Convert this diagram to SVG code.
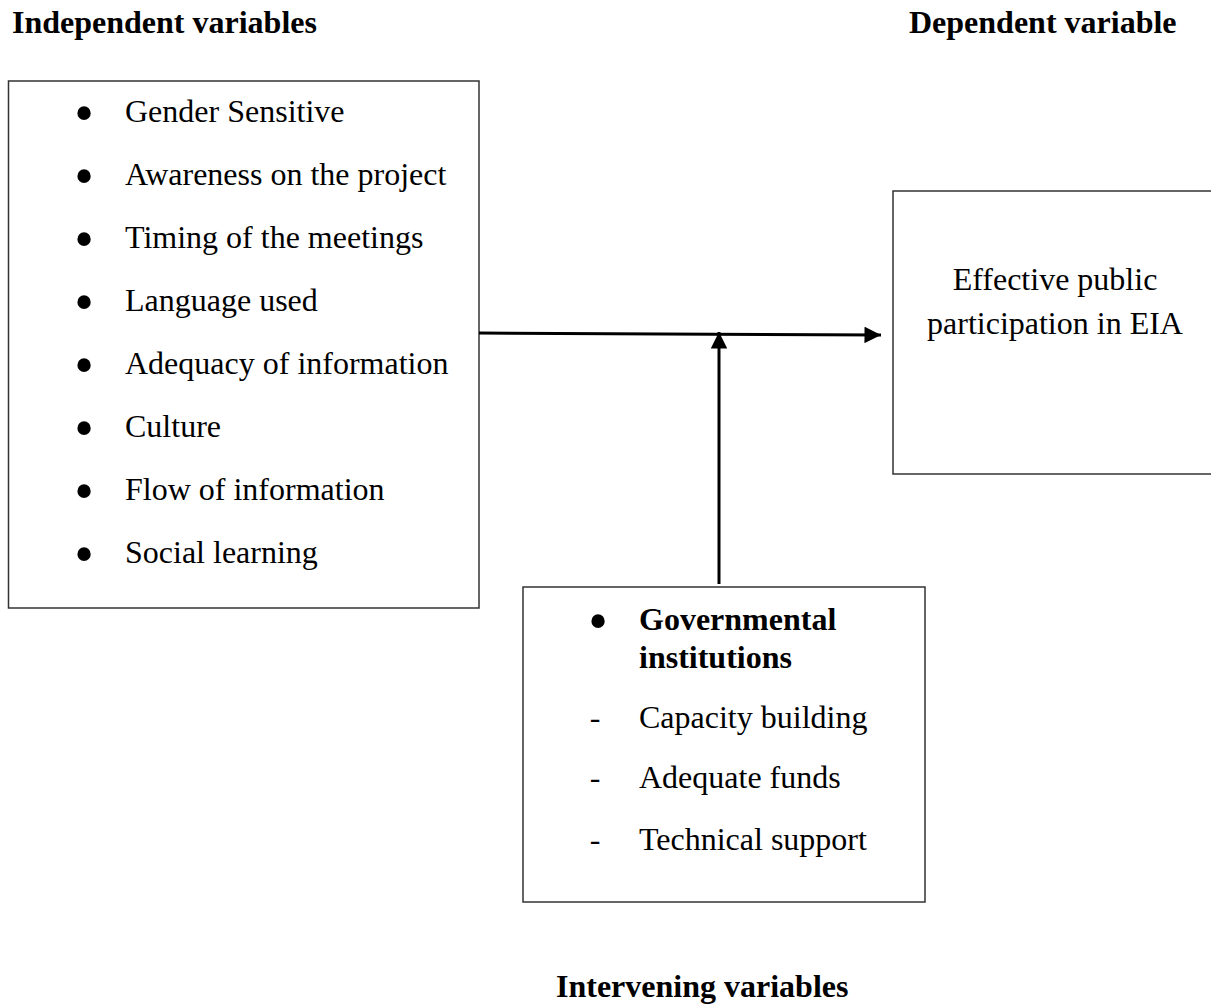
<svg xmlns="http://www.w3.org/2000/svg" width="1211" height="1005" viewBox="0 0 1211 1005">
<style>
  .t { font-family: "Liberation Serif", "Times New Roman", serif; font-size: 32px; fill: #000; }
  .b { font-weight: bold; }
  .box { fill: #fff; stroke: #333; stroke-width: 1.5; }
  .bul { font-family: "Liberation Serif", "Times New Roman", serif; font-size: 56px; fill: #000; text-anchor: middle; }
  .conn { stroke: #000; stroke-width: 3; fill: none; }
</style>
<defs>
  <marker id="arr" viewBox="0 0 10 10" refX="10" refY="5" markerWidth="6" markerHeight="5.5" markerUnits="strokeWidth" orient="auto">
    <path d="M0,0 L10,5 L0,10 z" fill="#000"/>
  </marker>
</defs>
<rect width="1211" height="1005" fill="#fff"/>

<g id="title-independent"><text class="t b" x="12" y="33">Independent variables</text></g>
<g id="title-dependent"><text class="t b" x="909" y="33">Dependent variable</text></g>
<g id="title-intervening"><text class="t b" x="556" y="997">Intervening variables</text></g>

<g id="independent">
  <rect class="box" x="8.5" y="81" width="470.5" height="527"/>
  <text class="bul" x="84" y="132">•</text><text class="t" x="125" y="122">Gender Sensitive</text>
  <text class="bul" x="84" y="195">•</text><text class="t" x="125" y="185">Awareness on the project</text>
  <text class="bul" x="84" y="258">•</text><text class="t" x="125" y="248">Timing of the meetings</text>
  <text class="bul" x="84" y="321">•</text><text class="t" x="125" y="311">Language used</text>
  <text class="bul" x="84" y="384">•</text><text class="t" x="125" y="374">Adequacy of information</text>
  <text class="bul" x="84" y="447">•</text><text class="t" x="125" y="437">Culture</text>
  <text class="bul" x="84" y="510">•</text><text class="t" x="125" y="500">Flow of information</text>
  <text class="bul" x="84" y="573">•</text><text class="t" x="125" y="563">Social learning</text>
</g>

<g id="dependent">
  <rect class="box" x="893" y="191" width="330" height="283"/>
  <text class="t" x="1055" y="290" text-anchor="middle">Effective public</text>
  <text class="t" x="1055" y="334" text-anchor="middle">participation in EIA</text>
</g>

<g id="intervening">
  <rect class="box" x="523" y="587" width="402" height="315"/>
  <text class="bul" x="598" y="640">•</text><text class="t b" x="639" y="630">Governmental</text>
  <text class="t b" x="639" y="668">institutions</text>
  <text class="t" x="595" y="728" text-anchor="middle">-</text><text class="t" x="639" y="728">Capacity building</text>
  <text class="t" x="595" y="788" text-anchor="middle">-</text><text class="t" x="639" y="788">Adequate funds</text>
  <text class="t" x="595" y="850" text-anchor="middle">-</text><text class="t" x="639" y="850">Technical support</text>
</g>

<g id="connectors">
  <line class="conn" x1="479" y1="333" x2="881" y2="335" marker-end="url(#arr)"/>
  <line class="conn" x1="719" y1="584" x2="719" y2="332" marker-end="url(#arr)"/>
</g>
</svg>
